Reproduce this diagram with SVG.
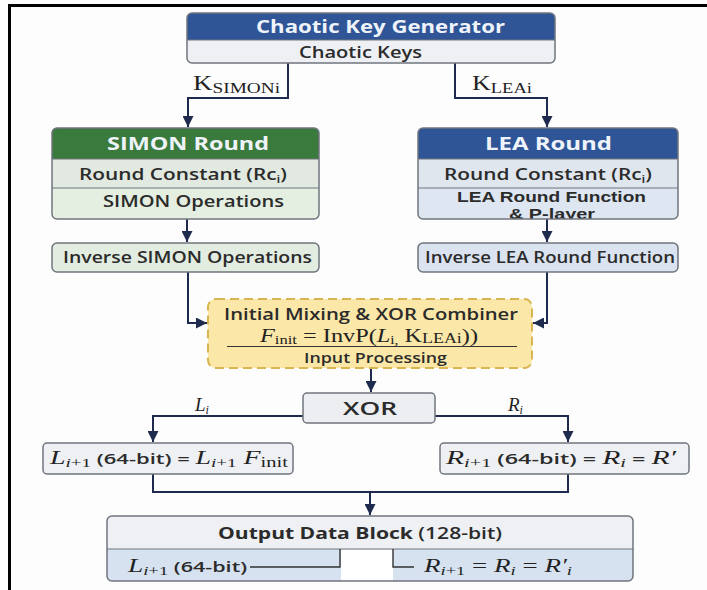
<svg xmlns="http://www.w3.org/2000/svg" width="707" height="590" viewBox="0 0 707 590">
<defs>
<style>
.sans{font-family:"Open Sans","Liberation Sans",sans-serif;fill:#2b2b2b;font-weight:600}
.tight{font-family:"Liberation Sans",Arial,sans-serif;fill:#2b2b2b;font-weight:700}
.hdr{font-family:"Open Sans","Liberation Sans",sans-serif;font-weight:700;fill:#eef3fa}
.m{font-family:"Liberation Serif","DejaVu Serif",serif;font-weight:400;fill:#222}
.mi{font-family:"Liberation Serif","DejaVu Serif",serif;font-style:italic;font-weight:400;fill:#222}
.box{stroke:#70757d;stroke-width:1.5}
.div{stroke:#70757d;stroke-width:1.2}
.conn{fill:none;stroke:#1f2a4f;stroke-width:2}
.thin{fill:none;stroke:#333;stroke-width:1.4}
</style>
<marker id="ah" viewBox="0 0 10 10" refX="10" refY="5" markerWidth="11" markerHeight="11" markerUnits="userSpaceOnUse" orient="auto">
<path d="M0,0 L10,5 L0,10 Z" fill="#1f2a4f"/>
</marker>
<clipPath id="leaclip"><rect x="418" y="188" width="260" height="31"/></clipPath>
</defs>
<rect width="707" height="590" fill="#fdfdfd"/>
<g id="frame">
<line x1="9" y1="5.5" x2="707" y2="5.5" stroke="#000" stroke-width="3"/>
<line x1="9.5" y1="4" x2="9.5" y2="590" stroke="#000" stroke-width="3"/>
</g>

<g id="connectors">
<path class="conn" d="M288,63 V98 H188 V127" marker-end="url(#ah)"/>
<path class="conn" d="M455,63 V98 H547 V127" marker-end="url(#ah)"/>
<path class="conn" d="M187,219 V242" marker-end="url(#ah)"/>
<path class="conn" d="M547,219 V242" marker-end="url(#ah)"/>
<path class="conn" d="M188,272 V323 H207" marker-end="url(#ah)"/>
<path class="conn" d="M547,272 V323 H533" marker-end="url(#ah)"/>
<path class="conn" d="M371,368 V392" marker-end="url(#ah)"/>
<path class="conn" d="M303,416 H153 V442" marker-end="url(#ah)"/>
<path class="conn" d="M435,416 H568 V442" marker-end="url(#ah)"/>
<path class="conn" d="M153,474 V492 H568 V474"/>
<path class="conn" d="M370,492 V515" marker-end="url(#ah)"/>
<text x="193" y="90" class="m" font-size="21" textLength="87" lengthAdjust="spacingAndGlyphs">K<tspan font-size="15" dy="3">SIMONi</tspan></text>
<text x="472" y="90" class="m" font-size="21" textLength="60" lengthAdjust="spacingAndGlyphs">K<tspan font-size="15" dy="3">LEAi</tspan></text>
<text x="195" y="411" class="mi" font-size="19">L<tspan font-size="12" dy="3">i</tspan></text>
<text x="508" y="411" class="mi" font-size="19">R<tspan font-size="12" dy="3">i</tspan></text>
</g>

<g id="chaotic-key-generator">
<rect x="187" y="13" width="368" height="50" rx="5" fill="#eef0f3"/>
<path d="M187,40 V18 Q187,13 192,13 H550 Q555,13 555,18 V40 Z" fill="#2f5597"/>
<line class="div" x1="187" y1="40" x2="555" y2="40"/>
<rect class="box" x="187" y="13" width="368" height="50" rx="5" fill="none"/>
<text x="256" y="33" class="hdr" font-size="18" textLength="249" lengthAdjust="spacingAndGlyphs">Chaotic Key Generator</text>
<text x="299" y="58" class="sans" font-size="16" textLength="123" lengthAdjust="spacingAndGlyphs">Chaotic Keys</text>
</g>

<g id="simon-round">
<rect x="52" y="128" width="267" height="91" rx="5" fill="#e4eee1"/>
<path d="M52,159 V133 Q52,128 57,128 H314 Q319,128 319,133 V159 Z" fill="#3a7a3d"/>
<rect x="52" y="159" width="267" height="29" fill="#e2e9e0"/>
<line class="div" x1="52" y1="159" x2="319" y2="159"/>
<line class="div" x1="52" y1="188" x2="319" y2="188"/>
<rect class="box" x="52" y="128" width="267" height="91" rx="5" fill="none"/>
<text x="107" y="150" class="hdr" font-size="18" textLength="162" lengthAdjust="spacingAndGlyphs">SIMON Round</text>
<text x="79" y="180" class="sans" font-size="15.5" textLength="208" lengthAdjust="spacingAndGlyphs">Round Constant (Rc<tspan font-size="10" dy="3">i</tspan><tspan dy="-3">)</tspan></text>
<text x="103" y="207" class="sans" font-size="15.5" textLength="181" lengthAdjust="spacingAndGlyphs">SIMON Operations</text>
</g>

<g id="inverse-simon">
<rect class="box" x="52" y="243" width="267" height="29" rx="5" fill="#e3ece0"/>
<text x="63" y="263" class="sans" font-size="15.5" textLength="249" lengthAdjust="spacingAndGlyphs">Inverse SIMON Operations</text>
</g>

<g id="lea-round">
<rect x="418" y="128" width="260" height="91" rx="5" fill="#dde6f1"/>
<path d="M418,159 V133 Q418,128 423,128 H673 Q678,128 678,133 V159 Z" fill="#2f5597"/>
<rect x="418" y="159" width="260" height="29" fill="#e0e6ee"/>
<line class="div" x1="418" y1="159" x2="678" y2="159"/>
<line class="div" x1="418" y1="188" x2="678" y2="188"/>
<text x="485" y="150" class="hdr" font-size="18" textLength="127" lengthAdjust="spacingAndGlyphs">LEA Round</text>
<text x="444" y="180" class="sans" font-size="15.5" textLength="208" lengthAdjust="spacingAndGlyphs">Round Constant (Rc<tspan font-size="10" dy="3">i</tspan><tspan dy="-3">)</tspan></text>
<g clip-path="url(#leaclip)">
<text x="457" y="202" class="tight" font-size="14" textLength="189" lengthAdjust="spacingAndGlyphs">LEA Round Function</text>
<text x="509" y="219" class="tight" font-size="14" textLength="86" lengthAdjust="spacingAndGlyphs">&amp; P-layer</text>
</g>
<rect class="box" x="418" y="128" width="260" height="91" rx="5" fill="none"/>
</g>

<g id="inverse-lea">
<rect class="box" x="418" y="243" width="260" height="29" rx="5" fill="#dae3ef"/>
<text x="425" y="263" class="sans" font-size="15.5" textLength="250" lengthAdjust="spacingAndGlyphs">Inverse LEA Round Function</text>
</g>

<g id="initial-mixing">
<rect x="208" y="299" width="324" height="69" rx="8" fill="#fbe7a8" stroke="#d9b552" stroke-width="2" stroke-dasharray="9 5"/>
<text x="224" y="320" class="sans" font-size="15.5" font-weight="700" textLength="294" lengthAdjust="spacingAndGlyphs">Initial Mixing &amp; XOR Combiner</text>
<text x="260" y="342" class="m" font-size="19" textLength="218" lengthAdjust="spacingAndGlyphs"><tspan font-style="italic">F</tspan><tspan font-size="13" dy="2">init</tspan><tspan dy="-2"> = InvP(</tspan><tspan font-style="italic">L</tspan><tspan font-size="12" dy="2">i,</tspan><tspan dy="-2"> K</tspan><tspan font-size="14" dy="1">LEAi</tspan><tspan dy="-1">))</tspan></text>
<line x1="227" y1="346.5" x2="517" y2="346.5" stroke="#333" stroke-width="1.2"/>
<text x="304" y="363" class="sans" font-size="13.5" textLength="143" lengthAdjust="spacingAndGlyphs">Input Processing</text>
</g>

<g id="xor">
<rect class="box" x="303" y="393" width="132" height="30" rx="4" fill="#eceef2"/>
<text x="343" y="415" class="sans" font-size="18" font-weight="700" textLength="54" lengthAdjust="spacingAndGlyphs">XOR</text>
</g>

<g id="left-half">
<rect class="box" x="43" y="443" width="250" height="31" rx="4" fill="#eef0f3"/>
<text x="50" y="464" class="sans" font-size="15" textLength="238" lengthAdjust="spacingAndGlyphs"><tspan class="mi" font-size="19">L</tspan><tspan class="m" font-size="13" dy="3"><tspan font-style="italic">i</tspan>+1</tspan><tspan dy="-3"> (64-bit) = </tspan><tspan class="mi" font-size="19">L</tspan><tspan class="m" font-size="13" dy="3"><tspan font-style="italic">i</tspan>+1</tspan><tspan class="mi" font-size="19" dy="-3"> F</tspan><tspan class="m" font-size="14" dy="3">init</tspan></text>
</g>

<g id="right-half">
<rect class="box" x="440" y="443" width="249" height="31" rx="4" fill="#eef0f3"/>
<text x="446" y="464" class="sans" font-size="15" textLength="230" lengthAdjust="spacingAndGlyphs"><tspan class="mi" font-size="19">R</tspan><tspan class="m" font-size="13" dy="3"><tspan font-style="italic">i</tspan>+1</tspan><tspan dy="-3"> (64-bit) = </tspan><tspan class="mi" font-size="19">R</tspan><tspan class="mi" font-size="13" dy="3">i</tspan><tspan dy="-3"> = </tspan><tspan class="mi" font-size="19">R′</tspan></text>
</g>

<g id="output-block">
<rect x="107" y="516" width="526" height="65" rx="5" fill="#eef0f3"/>
<path d="M107,549 H633 V576 Q633,581 628,581 H112 Q107,581 107,576 Z" fill="#d6e2ef"/>
<rect x="341" y="549.6" width="52" height="31" fill="#ffffff"/>
<line class="div" x1="107" y1="549" x2="633" y2="549"/>
<rect class="box" x="107" y="516" width="526" height="65" rx="5" fill="none"/>
<text x="218" y="539" class="sans" font-size="16" textLength="284" lengthAdjust="spacingAndGlyphs"><tspan font-weight="700">Output Data Block</tspan> (128-bit)</text>
<text x="128" y="572" class="sans" font-size="15" textLength="119" lengthAdjust="spacingAndGlyphs"><tspan class="mi" font-size="19">L</tspan><tspan class="m" font-size="13" dy="3"><tspan font-style="italic">i</tspan>+1</tspan><tspan dy="-3"> (64-bit)</tspan></text>
<path class="thin" d="M250,567 H340 V549"/>
<path class="thin" d="M393,549 V567 H414"/>
<text x="424" y="572" class="sans" font-size="15" textLength="148" lengthAdjust="spacingAndGlyphs"><tspan class="mi" font-size="19">R</tspan><tspan class="m" font-size="13" dy="3"><tspan font-style="italic">i</tspan>+1</tspan><tspan class="m" font-size="19" dy="-3"> = </tspan><tspan class="mi" font-size="19">R</tspan><tspan class="mi" font-size="13" dy="3">i</tspan><tspan class="m" font-size="19" dy="-3">  = </tspan><tspan class="mi" font-size="19">R′</tspan><tspan class="mi" font-size="13" dy="3">i</tspan></text>
</g>
</svg>
